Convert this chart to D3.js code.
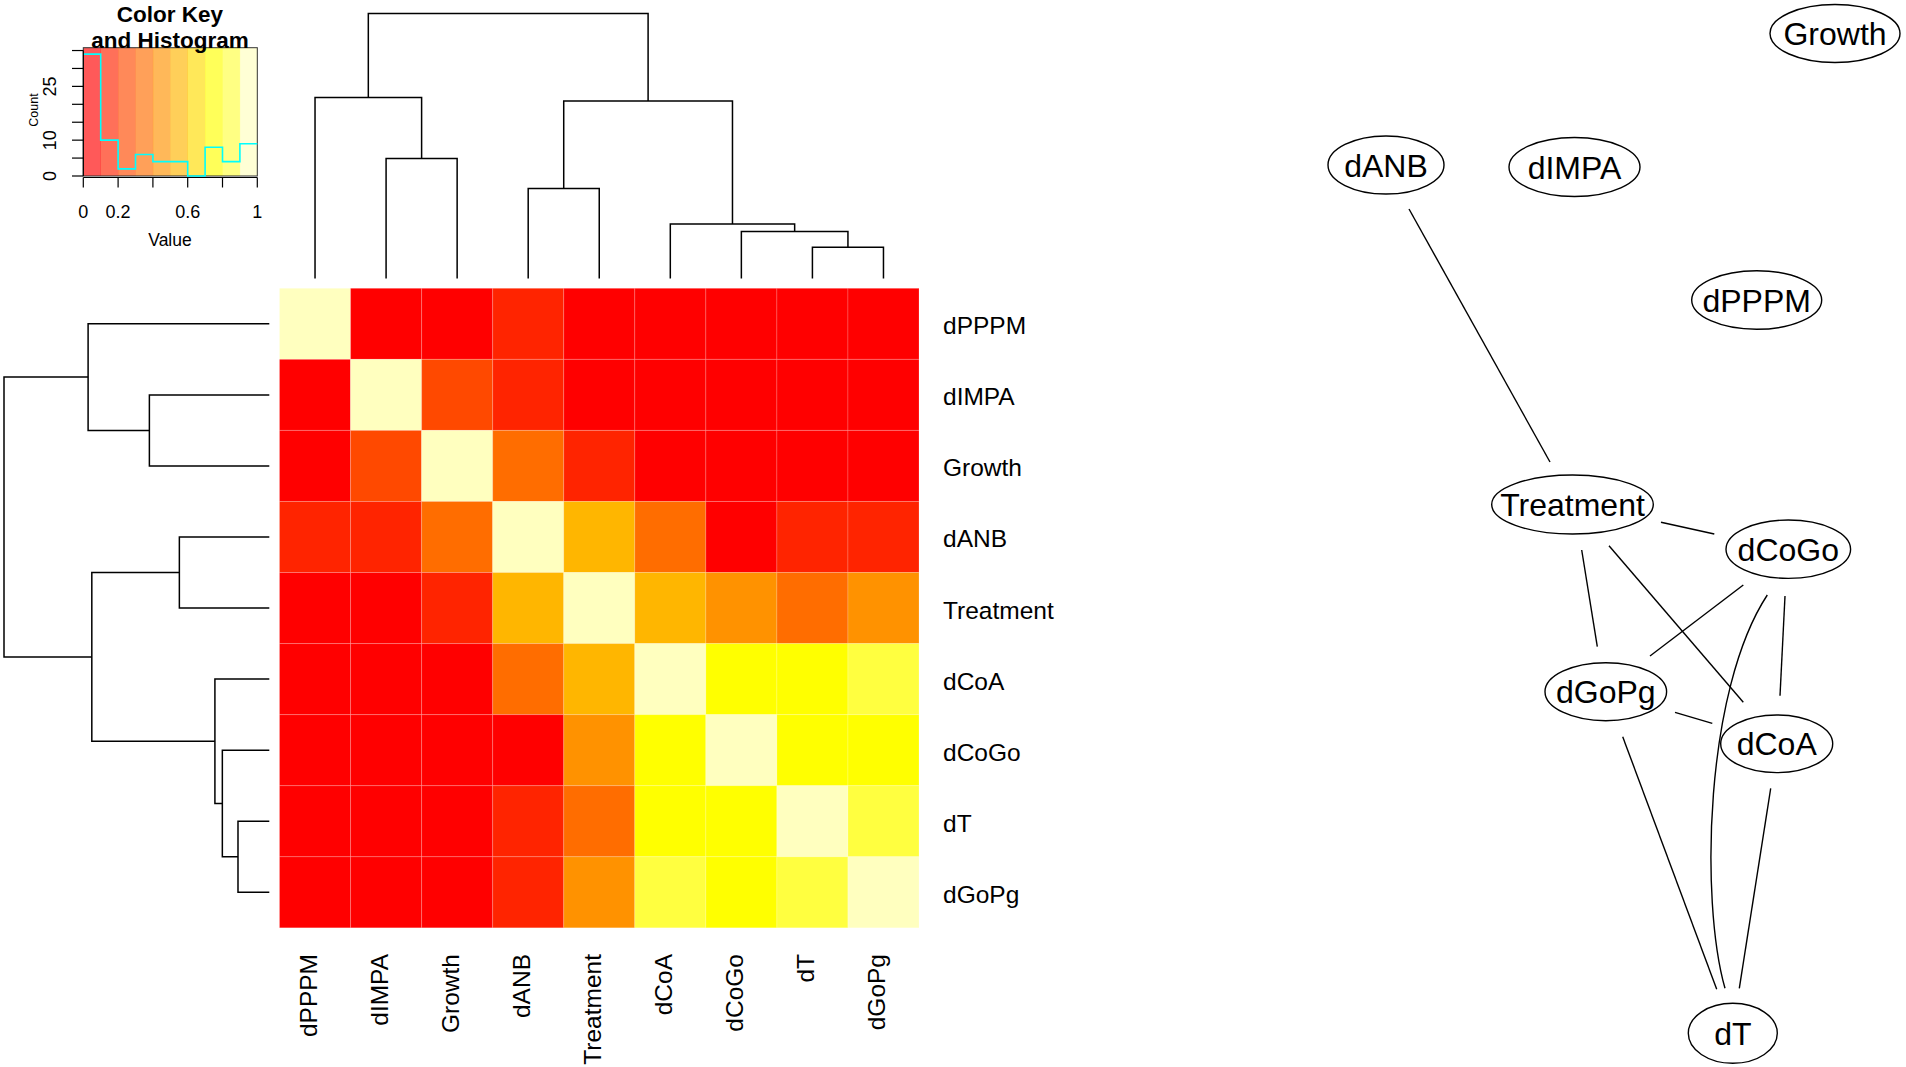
<!DOCTYPE html>
<html><head><meta charset="utf-8">
<script src="https://cdn.jsdelivr.net/npm/d3@7"></script>
<style>
body{margin:0;background:#fff}
svg{display:block;font-family:"Liberation Sans",Arial,Helvetica,sans-serif}
</style>
</head><body>
<svg id="c" width="1906" height="1067"></svg>
<script>
// ---------- data ----------
const labels = ["dPPPM","dIMPA","Growth","dANB","Treatment","dCoA","dCoGo","dT","dGoPg"];
const values = [
  [1.00,0.03,0.05,0.14,0.02,0.04,0.01,0.06,0.03],
  [0.03,1.00,0.27,0.12,0.07,0.02,0.05,0.03,0.08],
  [0.05,0.27,1.00,0.36,0.16,0.04,0.02,0.09,0.06],
  [0.14,0.12,0.36,1.00,0.57,0.33,0.04,0.18,0.13],
  [0.02,0.07,0.16,0.57,1.00,0.54,0.46,0.38,0.44],
  [0.04,0.02,0.04,0.33,0.54,1.00,0.76,0.74,0.83],
  [0.01,0.05,0.02,0.04,0.46,0.76,1.00,0.78,0.72],
  [0.06,0.03,0.09,0.18,0.38,0.74,0.78,1.00,0.86],
  [0.03,0.08,0.06,0.13,0.44,0.83,0.72,0.86,1.00]
];
const heatColors = ["#FF0000","#FF2400","#FF4900","#FF6D00","#FF9200","#FFB600","#FFDB00","#FFFF00","#FFFF40","#FFFFBF"];
const breaks = [0,0.1,0.2,0.3,0.4,0.5,0.6,0.7,0.8,0.9,1];
// hclust-style merges: negative = leaf (1-based in display order), positive = earlier merge
const merges = [[-8,-9,0.118],[-7,1,0.177],[-6,2,0.205],[-4,-5,0.339],[-2,-3,0.452],[4,3,0.669],[-1,5,0.683],[7,6,1.0]];
const keyXTicks = [0,0.2,0.4,0.6,0.8,1];
const keyXLabels = ["0","0.2","","0.6","","1"];
const keyYTicks = [0,5,10,15,20,25,30,35];
const keyYLabels = ["0","","10","","","25","",""];

// network (graphviz-style layout, points, y up)
const nodeNames = ["Growth","dANB","dIMPA","dPPPM","Treatment","dCoGo","dGoPg","dCoA","dT"];
const nodeX = [535,86,274.5,456.7,272.5,488.3,305.8,476.7,432.8];
const nodeY = [1033.5,902,900,767,562.5,517.8,375.3,323.2,33.7];
const nodeRx = [65,58,65.5,65,80.8,62.3,60.8,56,44.5];
const nodeRy = [29,29,29.5,29.3,29.5,29.2,29,28.8,30];
const edgeFrom = ["dANB","Treatment","Treatment","Treatment","dCoGo","dCoGo","dGoPg","dCoGo","dGoPg","dCoA"];
const edgeTo   = ["Treatment","dCoGo","dGoPg","dCoA","dGoPg","dCoA","dCoA","dT","dT","dT"];
const edgeSplines = [
  [109,858,250,605],
  [361,544.7,414.3,533],
  [281.7,517,297.3,420.3],
  [309,521.3,443.3,364.7],
  [443.3,482,350,411],
  [485,471,480,371.3],
  [375,354.7,412.3,343.7],
  [467.3,472,405,377,400,167,425,78.7],
  [322.7,330.3,416.7,77.7],
  [470.7,278.7,439.3,78.7]
];

// ---------- drawing ----------
const svg = d3.select("#c");
svg.append("rect").attr("width",1906).attr("height",1067).attr("fill","#fff");

const n = labels.length;
const xB = d3.scaleBand().domain(labels).range([279.5,919]);
const yB = d3.scaleBand().domain(labels).range([288.3,927.8]);
const color = d3.scaleQuantize().domain([0,1]).range(heatColors);

// heatmap cells
const cells = [];
values.forEach((row,i)=>row.forEach((v,j)=>cells.push({r:labels[i],c:labels[j],v})));
svg.append("g").selectAll("rect").data(cells).join("rect")
  .attr("x",d=>xB(d.c)).attr("y",d=>yB(d.r))
  .attr("width",xB.bandwidth()).attr("height",yB.bandwidth())
  .attr("fill",d=>color(d.v))
  .attr("stroke","#fff").attr("stroke-opacity",0.18).attr("stroke-width",1);

// row labels
svg.append("g").selectAll("text").data(labels).join("text")
  .attr("x",943).attr("y",d=>yB(d)+yB.bandwidth()/2+10.5)
  .attr("font-size",24.5).attr("fill","#000").text(d=>d);
// column labels
svg.append("g").selectAll("text").data(labels).join("text")
  .attr("transform",d=>`translate(${xB(d)+xB.bandwidth()/2+1.8},954) rotate(-90)`)
  .attr("text-anchor","end").attr("font-size",24.5).attr("fill","#000").text(d=>d);

// dendrogram geometry
function dendro(){
  const pos=[], hgt=[];
  merges.forEach(([a,b,h],k)=>{
    const pa = a<0 ? -a-1 : pos[a-1], pb = b<0 ? -b-1 : pos[b-1];
    pos[k]=(pa+pb)/2; hgt[k]=h;
  });
  return merges.map(([a,b,h],k)=>({
    pa: a<0 ? -a-1 : pos[a-1], ha: a<0 ? 0 : hgt[a-1],
    pb: b<0 ? -b-1 : pos[b-1], hb: b<0 ? 0 : hgt[b-1], h
  }));
}
const segs = dendro();
const rootH = d3.max(merges,m=>m[2]);
// column dendrogram
const cPos = d3.scaleLinear().domain([0,n-1]).range([xB(labels[0])+xB.bandwidth()/2, xB(labels[n-1])+xB.bandwidth()/2]);
const cH = d3.scaleLinear().domain([0,rootH]).range([278.4,13.4]);
svg.append("g").selectAll("path").data(segs).join("path")
  .attr("d",s=>`M${cPos(s.pa)},${cH(s.ha)}V${cH(s.h)}H${cPos(s.pb)}V${cH(s.hb)}`)
  .attr("fill","none").attr("stroke","#000").attr("stroke-width",1.5);
// row dendrogram
const rPos = d3.scaleLinear().domain([0,n-1]).range([yB(labels[0])+yB.bandwidth()/2, yB(labels[n-1])+yB.bandwidth()/2]);
const rH = d3.scaleLinear().domain([0,rootH]).range([269.3,4]);
svg.append("g").selectAll("path").data(segs).join("path")
  .attr("d",s=>`M${rH(s.ha)},${rPos(s.pa)}H${rH(s.h)}V${rPos(s.pb)}H${rH(s.hb)}`)
  .attr("fill","none").attr("stroke","#000").attr("stroke-width",1.5);

// ---------- colour key ----------
const kx = d3.scaleLinear().domain([0,1]).range([83.3,257.3]);
const allVals = values.flat();
const bins = d3.bin().domain([0,1]).thresholds(breaks.slice(1,-1))(allVals);
const counts = bins.map(b=>b.length);
const maxC = d3.max(counts);
const ky = d3.scaleLinear().domain([0,maxC/0.95]).range([176,47.7]);
const key = svg.append("g");
key.selectAll("rect.band").data(heatColors).join("rect").attr("class","band")
  .attr("x",(d,i)=>kx(breaks[i])).attr("y",47.7)
  .attr("width",(d,i)=>kx(breaks[i+1])-kx(breaks[i])+0.3).attr("height",176-47.7)
  .attr("fill",d=>d).attr("fill-opacity",0.65);
key.append("rect").attr("x",kx(0)).attr("y",47.7).attr("width",kx(1)-kx(0)).attr("height",176-47.7)
  .attr("fill","none").attr("stroke","#333").attr("stroke-width",1);
const histPts = breaks.map((b,i)=>[b, counts[Math.min(i,counts.length-1)]]);
key.append("path").datum(histPts)
  .attr("d",d3.line().x(d=>kx(d[0])).y(d=>ky(d[1])).curve(d3.curveStepAfter))
  .attr("fill","none").attr("stroke","#00FFFF").attr("stroke-width",1.6);
// x axis
key.append("path").attr("d",`M${kx(0)},177.5H${kx(1)}`).attr("stroke","#000").attr("stroke-width",1.2);
key.selectAll("line.xt").data(keyXTicks).join("line").attr("class","xt")
  .attr("x1",d=>kx(d)).attr("x2",d=>kx(d)).attr("y1",177.5).attr("y2",187.5)
  .attr("stroke","#000").attr("stroke-width",1.2);
key.selectAll("text.xl").data(keyXTicks).join("text").attr("class","xl")
  .attr("x",d=>kx(d)).attr("y",218.2).attr("text-anchor","middle").attr("font-size",18)
  .text((d,i)=>keyXLabels[i]);
key.append("text").attr("x",170).attr("y",245.8).attr("text-anchor","middle").attr("font-size",17.5).text("Value");
// y axis
key.append("path").attr("d",`M${kx(0)},${ky(0)}V${ky(35)}`).attr("stroke","#000").attr("stroke-width",1.2);
key.selectAll("line.yt").data(keyYTicks).join("line").attr("class","yt")
  .attr("x1",72).attr("x2",kx(0)).attr("y1",d=>ky(d)).attr("y2",d=>ky(d))
  .attr("stroke","#000").attr("stroke-width",1.2);
key.selectAll("text.yl").data(keyYTicks).join("text").attr("class","yl")
  .attr("transform",d=>`translate(55.8,${ky(d)}) rotate(-90)`)
  .attr("text-anchor","middle").attr("font-size",18).text((d,i)=>keyYLabels[i]);
key.append("text").attr("transform","translate(37.5,110) rotate(-90)")
  .attr("text-anchor","middle").attr("font-size",12.5).text("Count");
key.append("text").attr("x",170).attr("y",21.7).attr("text-anchor","middle")
  .attr("font-size",22.5).attr("font-weight","bold").text("Color Key");
key.append("text").attr("x",170).attr("y",48.3).attr("text-anchor","middle")
  .attr("font-size",22.5).attr("font-weight","bold").text("and Histogram");

// ---------- network ----------
const gx = d3.scaleLinear().domain([0,600]).range([1300,1900]);
const gy = d3.scaleLinear().domain([0,1067]).range([1067,0]);
const net = svg.append("g");
net.selectAll("path").data(edgeSplines).join("path")
  .attr("d",p=>{
    const q = d3.path();
    q.moveTo(gx(p[0]),gy(p[1]));
    if(p.length===4) q.lineTo(gx(p[2]),gy(p[3]));
    else q.bezierCurveTo(gx(p[2]),gy(p[3]),gx(p[4]),gy(p[5]),gx(p[6]),gy(p[7]));
    return q.toString();
  })
  .attr("fill","none").attr("stroke","#000").attr("stroke-width",1.4);
const nodes = nodeNames.map((nm,i)=>({nm,x:nodeX[i],y:nodeY[i],rx:nodeRx[i],ry:nodeRy[i]}));
net.selectAll("ellipse").data(nodes).join("ellipse")
  .attr("cx",d=>gx(d.x)).attr("cy",d=>gy(d.y)).attr("rx",d=>d.rx).attr("ry",d=>d.ry)
  .attr("fill","none").attr("stroke","#000").attr("stroke-width",1.4);
net.selectAll("text").data(nodes).join("text")
  .attr("x",d=>gx(d.x)).attr("y",d=>gy(d.y)+11.5).attr("text-anchor","middle")
  .attr("font-size",32).attr("fill","#000").text(d=>d.nm);
</script>
</body></html>
